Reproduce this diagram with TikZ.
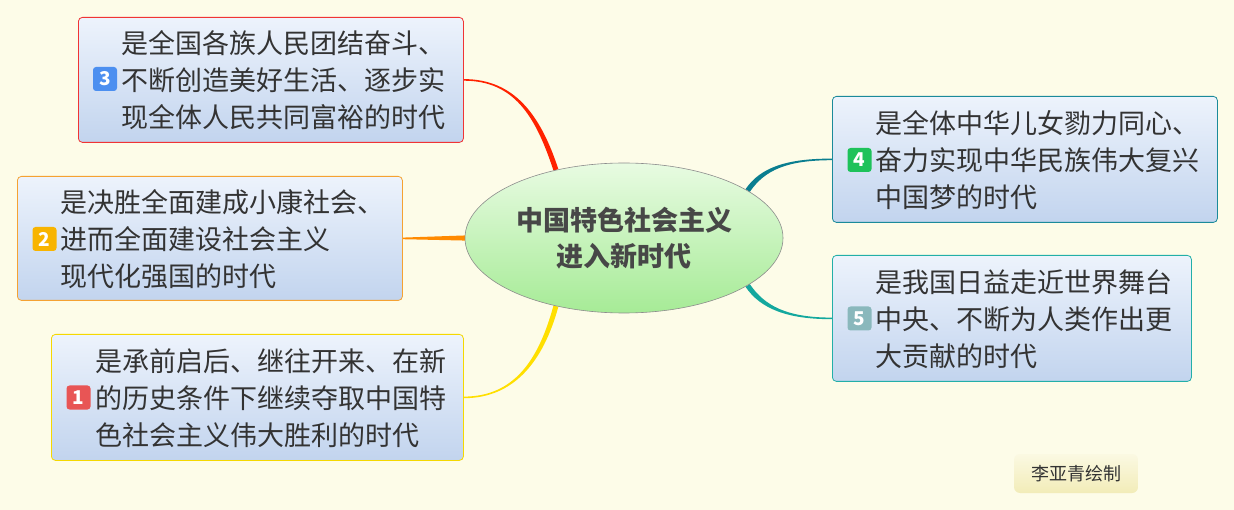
\documentclass[tikz,border=0pt]{standalone}
\usepackage{fontspec}
\setmainfont{Noto Sans CJK SC}
\usetikzlibrary{shapes.geometric,calc,backgrounds}
\definecolor{bgc}{HTML}{FDFCE8}
\definecolor{boxtop}{HTML}{EDF3FC}
\definecolor{boxbot}{HTML}{C2D4EE}
\definecolor{txtc}{HTML}{333333}
\definecolor{ctxt}{HTML}{474747}
\definecolor{elltop}{HTML}{E8FBE2}
\definecolor{ellbot}{HTML}{A6EB96}
\definecolor{cred}{HTML}{FF2200}
\definecolor{bred}{HTML}{F03434}
\definecolor{corange}{HTML}{FF8A00}
\definecolor{borange}{HTML}{F5A232}
\definecolor{cyellow}{HTML}{FFDF00}
\definecolor{byellow}{HTML}{F5D800}
\definecolor{cteal}{HTML}{0A7E90}
\definecolor{bteal}{HTML}{1A8A9A}
\definecolor{cteal2}{HTML}{14A89E}
\definecolor{bteal2}{HTML}{22AFA8}
\definecolor{gblue}{HTML}{4C8FF0}
\definecolor{gorange}{HTML}{F8B400}
\definecolor{gred}{HTML}{E85555}
\definecolor{ggreen}{HTML}{1EC25A}
\definecolor{ggray}{HTML}{8AB8BC}
\definecolor{sigtop}{HTML}{FBF9E2}
\definecolor{sigbot}{HTML}{F2ECB8}
\begin{document}
\begin{tikzpicture}[x=1pt,y=-1pt,
  topicbox/.style={draw, line width=0.8pt, rounded corners=4pt, top color=boxtop, bottom color=boxbot,
    inner sep=0pt, anchor=north west},
  topictext/.style={anchor=west, inner sep=0pt, align=left, text=txtc,
    font=\fontsize{27}{37}\selectfont},
  badge/.style={rounded corners=3pt, minimum width=24pt, minimum height=24pt, inner sep=0pt,
    text=white, font=\fontsize{19}{19}\selectfont\bfseries},
  centre/.style={ellipse, draw=black!45, line width=0.6pt, top color=elltop, bottom color=ellbot,
    minimum width=318pt, minimum height=150pt, inner sep=0pt, align=center, text=ctxt,
    font=\fontsize{27}{36}\selectfont\bfseries},
  sig/.style={rounded corners=6pt, top color=sigtop, bottom color=sigbot, minimum width=124pt,
    minimum height=39pt, inner sep=0pt, text=txtc, font=\fontsize{18}{18}\selectfont}
]
\useasboundingbox (0,0) rectangle (1234,510);

% topic boxes
\node[topicbox, draw=bred, minimum width=385pt, minimum height=125pt] (b3) at (78,17) {};
\node[topicbox, draw=borange, minimum width=385pt, minimum height=124pt] (b2) at (17,176) {};
\node[topicbox, draw=byellow, minimum width=412pt, minimum height=126pt] (b1) at (51,334) {};
\node[topicbox, draw=bteal, minimum width=385pt, minimum height=126pt] (b4) at (832,96) {};
\node[topicbox, draw=bteal2, minimum width=359pt, minimum height=126pt] (b5) at (832,255) {};

% texts
\node[topictext] (t3) at (121,80) {是全国各族人民团结奋斗、\\不断创造美好生活、逐步实\\现全体人民共同富裕的时代};
\node[topictext] (t2) at (60,239) {是决胜全面建成小康社会、\\进而全面建设社会主义\\现代化强国的时代};
\node[topictext] (t1) at (95,398) {是承前启后、继往开来、在新\\的历史条件下继续夺取中国特\\色社会主义伟大胜利的时代};
\node[topictext] (t4) at (875,160) {是全体中华儿女勠力同心、\\奋力实现中华民族伟大复兴\\中国梦的时代};
\node[topictext] (t5) at (875,319) {是我国日益走近世界舞台\\中央、不断为人类作出更\\大贡献的时代};

% badges
\node[badge, fill=gblue] (g3) at (105,79) {3};
\node[badge, fill=gorange] (g2) at (44.5,239) {2};
\node[badge, fill=gred] (g1) at (78.5,397.5) {1};
\node[badge, fill=ggreen] (g4) at (859.5,160) {4};
\node[badge, fill=ggray] (g5) at (859.5,318.5) {5};

% central topic
\node[centre] (c) at (624,238) {中国特色社会主义\\进入新时代};

% signature
\node[sig] (s) at (1076,473.5) {李亚青绘制};

\begin{scope}[on background layer]
\fill[bgc] (0,0) rectangle (1234,510);
% red
\fill[cred] ($(b3.east)+(0,-0.8)$) .. controls +(50,0) and +(-18,-55) .. ($(c.135)+(2.4,-0.8)$)
  -- ($(c.135)+(-2.4,0.8)$) .. controls +(-18,-55) and +(50,0) .. ($(b3.east)+(0,0.8)$) -- cycle;
% orange
\fill[corange] ($(b2.east)+(0,-0.8)$) -- ($(c.west)+(2,-2.6)$) -- ($(c.west)+(2,2.6)$) -- ($(b2.east)+(0,0.8)$) -- cycle;
% yellow
\fill[cyellow] ($(b1.east)+(0,0.8)$) .. controls +(50,0) and +(-15,55) .. ($(c.225)+(2.4,0.65)$)
  -- ($(c.225)+(-2.4,-0.65)$) .. controls +(-15,55) and +(50,0) .. ($(b1.east)+(0,-0.8)$) -- cycle;
% teal top
\fill[cteal] ($(b4.west)+(0,-0.8)$) .. controls +(-45,0) and +(15,-22) .. ($(c.21)+(-2.1,-1.4)$)
  -- ($(c.21)+(2.1,1.4)$) .. controls +(15,-22) and +(-45,0) .. ($(b4.west)+(0,0.8)$) -- cycle;
% teal bottom
\fill[cteal2] ($(b5.west)+(0,0.8)$) .. controls +(-45,0) and +(15,22) .. ($(c.-21)+(-2.1,1.4)$)
  -- ($(c.-21)+(2.1,-1.4)$) .. controls +(15,22) and +(-45,0) .. ($(b5.west)+(0,-0.8)$) -- cycle;
\end{scope}
\end{tikzpicture}
\end{document}
